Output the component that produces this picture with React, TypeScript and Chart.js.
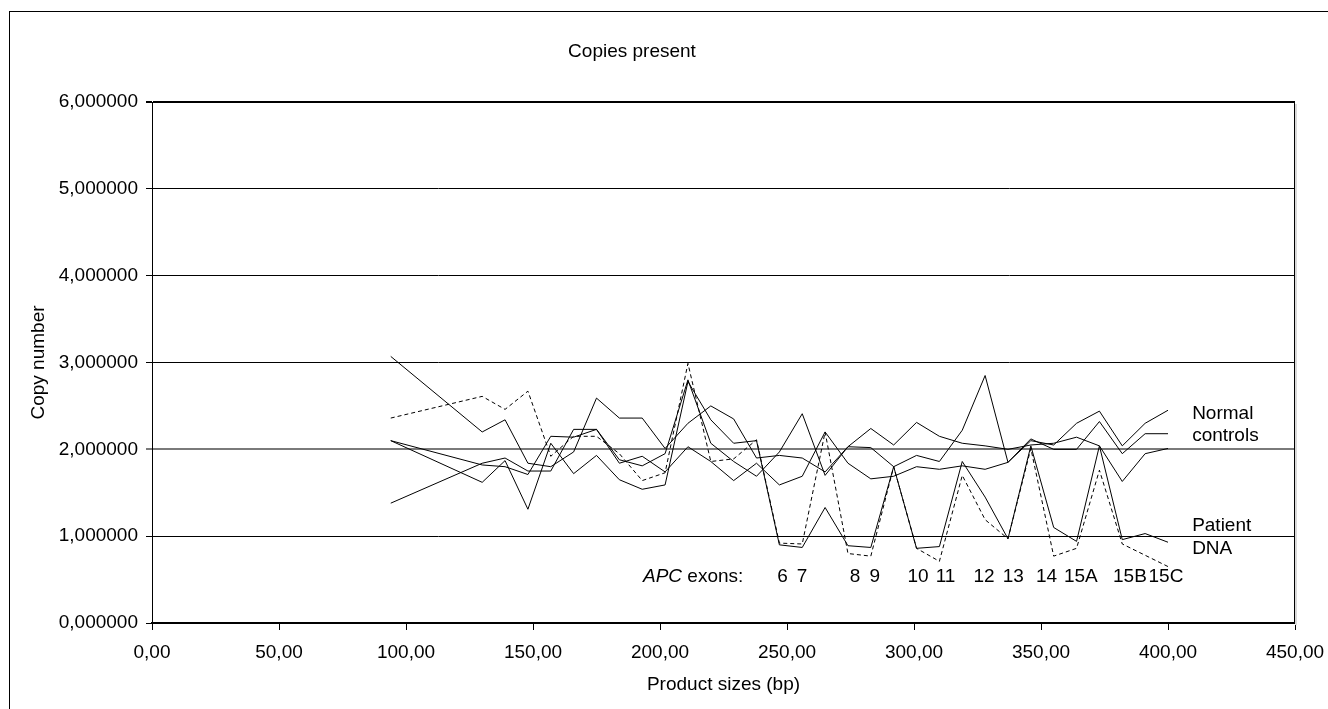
import React, { useEffect, useRef } from "react";
import { Chart, registerables } from "chart.js";

Chart.register(...registerables);

const productSizes = [94, 130, 139, 148, 157, 166, 175, 184, 193, 202, 211, 220, 229, 238, 247, 256, 265, 274, 283, 292, 301, 310, 319, 328, 337, 346, 355, 364, 373, 382, 391, 400];

const normalA = [3.07, 2.20, 2.34, 1.84, 1.80, 1.97, 2.59, 2.36, 2.36, 2.01, 2.30, 2.50, 2.35, 1.90, 1.93, 1.90, 1.74, 2.03, 2.02, 1.80, 1.93, 1.86, 2.22, 2.85, 1.85, 2.10, 2.05, 2.30, 2.44, 2.04, 2.30, 2.45];
const normalB = [2.10, 1.82, 1.80, 1.71, 2.15, 2.14, 2.23, 1.88, 1.81, 1.95, 2.80, 2.07, 1.86, 1.69, 1.97, 2.41, 1.70, 2.03, 2.24, 2.05, 2.31, 2.15, 2.07, 2.04, 2.00, 2.05, 2.07, 2.14, 2.04, 1.63, 1.95, 2.01];
const normalC = [1.38, 1.84, 1.90, 1.75, 1.75, 2.23, 2.23, 1.84, 1.92, 1.74, 2.03, 1.86, 1.64, 1.84, 1.59, 1.69, 2.20, 1.84, 1.66, 1.69, 1.80, 1.77, 1.81, 1.77, 1.85, 2.12, 2.00, 2.00, 2.32, 1.95, 2.18, 2.18];
const patientSolid = [2.10, 1.62, 1.87, 1.31, 2.07, 1.72, 1.93, 1.65, 1.54, 1.59, 2.78, 2.34, 2.07, 2.10, 0.90, 0.87, 1.33, 0.89, 0.87, 1.80, 0.86, 0.88, 1.86, 1.45, 0.97, 2.04, 1.10, 0.94, 2.04, 0.96, 1.03, 0.93];
const patientDashed = [2.36, 2.61, 2.46, 2.67, 1.92, 2.15, 2.15, 1.95, 1.64, 1.73, 2.99, 1.86, 1.89, 2.11, 0.92, 0.91, 2.20, 0.80, 0.77, 1.80, 0.86, 0.71, 1.70, 1.19, 0.97, 2.01, 0.77, 0.86, 1.76, 0.91, 0.78, 0.65];

const exonNames = ["6", "7", "8", "9", "10", "11", "12", "13", "14", "15A", "15B", "15C"];
const exonPositions = [248.2, 255.9, 276.8, 284.6, 301.6, 312.4, 327.6, 339.1, 352.2, 365.7, 385.0, 399.2];

const xTicksStep = 50;
const yTicksStep = 1;

const FONT = "'Liberation Sans', Arial, sans-serif";

const toPoints = (ys: number[]) => productSizes.map((x, i) => ({ x, y: ys[i] }));

const decorPlugin = {
  id: "decor",
  beforeDraw(chart: any) {
    const { ctx } = chart;
    ctx.save();
    ctx.fillStyle = "#fff";
    ctx.fillRect(0, 0, chart.width, chart.height);
    ctx.restore();
  },
  afterDraw(chart: any) {
    const { ctx, chartArea } = chart;
    const xs = chart.scales.x;
    const ys = chart.scales.y;
    ctx.save();
    ctx.strokeStyle = "#000";
    ctx.lineWidth = 1;
    ctx.strokeRect(9.5, 11.5, chart.width + 20, chart.height + 20);
    ctx.beginPath();
    ctx.moveTo(chartArea.right - 0.5, chartArea.top);
    ctx.lineTo(chartArea.right - 0.5, chartArea.bottom);
    ctx.stroke();
    ctx.fillStyle = "#d9d9d9";
    ctx.fillRect(chartArea.right, chartArea.top + 2, 2, chartArea.bottom - chartArea.top);
    ctx.fillStyle = "#000";
    ctx.font = `19px ${FONT}`;
    ctx.textAlign = "center";
    ctx.textBaseline = "alphabetic";
    ctx.fillText("Copies present", 632, 57);
    ctx.fillText("Product sizes (bp)", (chartArea.left + chartArea.right) / 2, 690);
    ctx.save();
    ctx.translate(44, (chartArea.top + chartArea.bottom) / 2);
    ctx.rotate(-Math.PI / 2);
    ctx.fillText("Copy number", 0, 0);
    ctx.restore();
    ctx.textAlign = "left";
    const lx = xs.getPixelForValue(409.5);
    ctx.fillText("Normal", lx, ys.getPixelForValue(2.35));
    ctx.fillText("controls", lx, ys.getPixelForValue(2.1));
    ctx.fillText("Patient", lx, ys.getPixelForValue(1.06));
    ctx.fillText("DNA", lx, ys.getPixelForValue(0.8));
    const by = ys.getPixelForValue(0.47);
    ctx.font = `italic 19px ${FONT}`;
    const apcX = xs.getPixelForValue(193.3);
    ctx.fillText("APC", apcX, by);
    const w = ctx.measureText("APC").width;
    ctx.font = `19px ${FONT}`;
    ctx.fillText(" exons:", apcX + w, by);
    ctx.textAlign = "center";
    exonNames.forEach((n, i) => {
      ctx.fillText(n, xs.getPixelForValue(exonPositions[i]), by);
    });
    ctx.restore();
  },
};

export default function App() {
  const ref = useRef<HTMLCanvasElement | null>(null);
  useEffect(() => {
    if (!ref.current) return;
    const lineDs = (data: number[], dashed = false) => ({
      data: toPoints(data),
      borderColor: "#000",
      borderWidth: 1,
      borderDash: dashed ? [4, 3] : [],
      pointRadius: 0,
      fill: false,
      tension: 0,
    });
    const zeroPad = (s: any) => {
      s.paddingLeft = 0;
      s.paddingRight = 0;
      s.paddingTop = 0;
      s.paddingBottom = 0;
    };
    const chart = new Chart(ref.current, {
      type: "line",
      data: {
        datasets: [
          lineDs(normalA),
          lineDs(normalB),
          lineDs(normalC),
          lineDs(patientSolid),
          lineDs(patientDashed, true),
        ],
      },
      options: {
        responsive: false,
        animation: false,
        devicePixelRatio: 1,
        layout: { padding: { left: 0, top: 102, right: 33, bottom: 0 } },
        plugins: {
          legend: { display: false },
          tooltip: { enabled: false },
          title: { display: false },
        },
        scales: {
          x: {
            type: "linear",
            min: 0,
            max: 450,
            afterFit: (s: any) => {
              s.height = 86;
              zeroPad(s);
            },
            ticks: {
              stepSize: xTicksStep,
              color: "#000",
              font: { family: FONT, size: 19 },
              padding: 11,
              maxRotation: 0,
              callback: (v: any) => Number(v).toFixed(2).replace(".", ","),
            },
            grid: {
              drawOnChartArea: false,
              drawTicks: true,
              tickLength: 7,
              color: "#000",
            },
            border: { color: "#000", width: 2 },
          },
          y: {
            min: 0,
            max: 6,
            afterFit: (s: any) => {
              s.width = 152;
              zeroPad(s);
            },
            ticks: {
              stepSize: yTicksStep,
              color: "#000",
              font: { family: FONT, size: 19 },
              padding: 8,
              callback: (v: any) => Number(v).toFixed(6).replace(".", ","),
            },
            grid: {
              color: (c: any) => (c.tick && c.tick.value === 2 ? "#7a7a7a" : "#000"),
              lineWidth: (c: any) => (c.tick && (c.tick.value === 6 || c.tick.value === 2) ? 2 : 1),
              tickLength: 6,
            },
            border: { color: "#000", width: 1 },
          },
        },
      },
      plugins: [decorPlugin],
    } as any);
    return () => chart.destroy();
  }, []);
  return (
    <div style={{ position: "absolute", left: 0, top: 0, width: 1328, height: 709, overflow: "hidden" }}>
      <canvas ref={ref} width={1328} height={709} style={{ display: "block" }} />
    </div>
  );
}
